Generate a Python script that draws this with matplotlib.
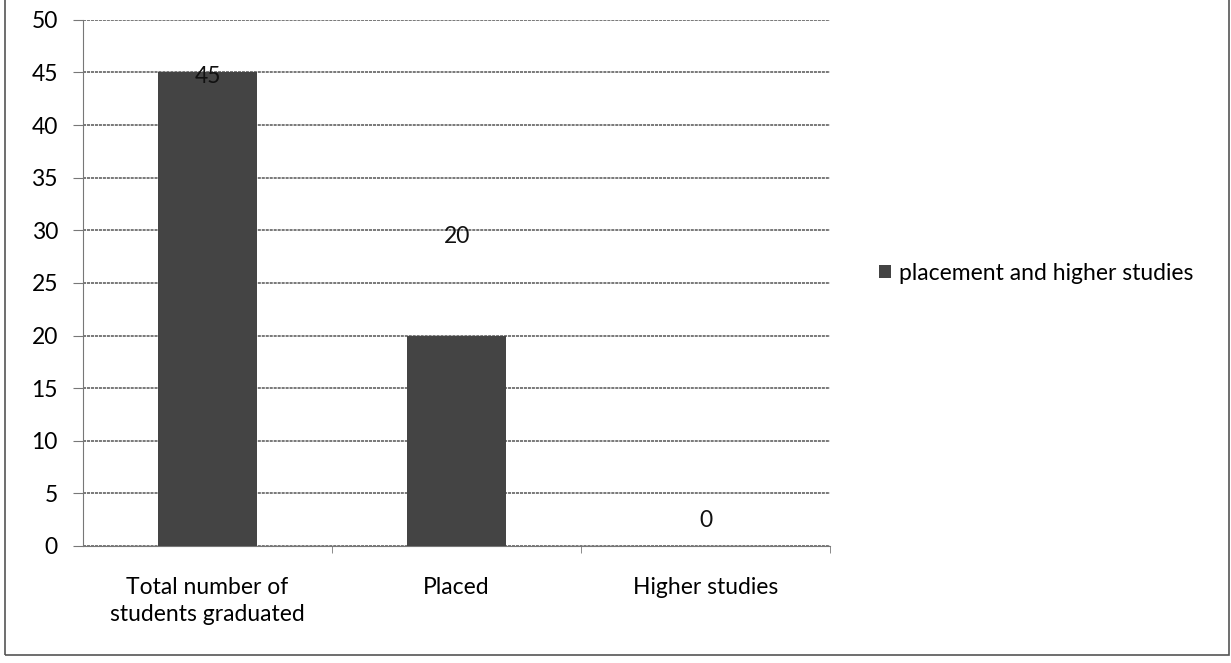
import matplotlib.pyplot as plt
from matplotlib.patches import Rectangle

categories = ["Total number of\nstudents graduated", "Placed", "Higher studies"]
values = [45, 20, 0]
series_name = "placement and higher studies"

# where the data labels sit (value units), as placed in the original
label_y = [44.6, 29.4, 2.4]

plt.rcParams['font.family'] = ['Lato', 'DejaVu Sans']
fs = 16.5

fig = plt.figure(figsize=(12.31, 6.63), dpi=100)
ax = fig.add_axes([0.0674, 0.1765, 0.607, 0.7935])

x = range(len(categories))
ax.bar(x, values, width=0.4, color='#444444', linewidth=0, label=series_name, zorder=3)

for xi, v, ly in zip(x, values, label_y):
    ax.text(xi, ly, str(v), ha='center', va='center', fontsize=fs, color='#111111', zorder=4)

ax.set_xlim(-0.5, 2.5)
ax.set_ylim(0, 50)
ax.set_yticks(range(0, 51, 5))
ax.set_xticks(list(x))
ax.set_xticklabels(categories, fontsize=fs, linespacing=1.4)
ax.set_xticks([0.5, 1.5, 2.5], minor=True)
ax.tick_params(axis='x', which='major', length=0, pad=22)
ax.tick_params(axis='x', which='minor', length=5, color='#777777', direction='out')
ax.tick_params(axis='y', labelsize=fs, length=7, color='#777777', pad=11)
ax.yaxis.grid(True, color='#555555', linewidth=1.1, linestyle=(0, (2, 0.6)), zorder=0)

for s in ['top', 'right']:
    ax.spines[s].set_visible(False)
ax.spines['left'].set_color('#777777')
ax.spines['bottom'].set_color('#777777')

fig.legend(loc='center left', bbox_to_anchor=(0.697, 0.588), frameon=False,
           fontsize=fs, handlelength=0.55, handleheight=0.55, handletextpad=0.35)

# scanned page frame
fig.patches.append(Rectangle((0.004, 0.012), 0.994, 0.99, transform=fig.transFigure,
                             fill=False, edgecolor='#555555', linewidth=1.2))

fig.savefig('out.png', dpi=100)
